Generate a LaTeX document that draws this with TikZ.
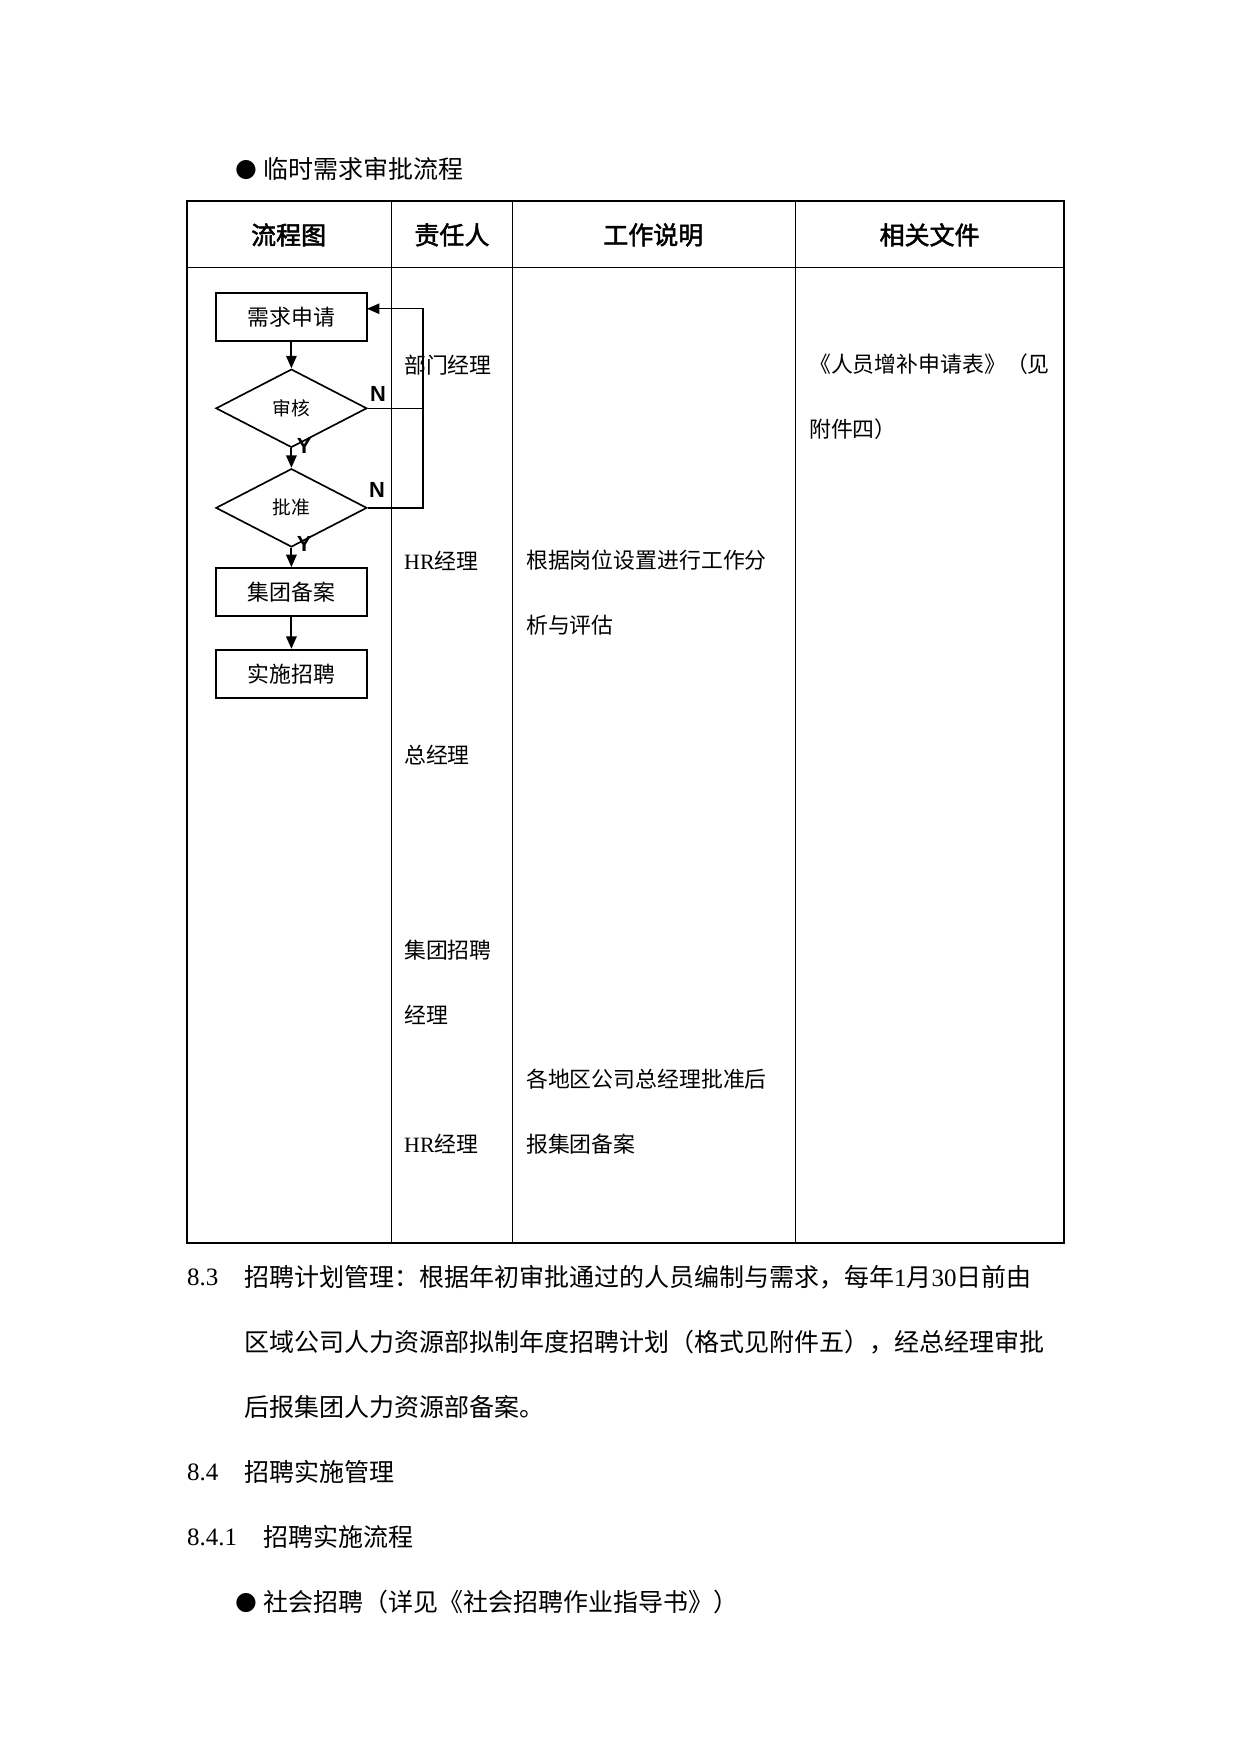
\documentclass[tikz,border=0pt]{standalone}
\usepackage{fontspec}
\setmainfont{Liberation Serif}
\newfontfamily\cjk{Noto Sans CJK SC}
\newfontfamily\cjkb[FakeBold=2]{Noto Sans CJK SC}
\newfontfamily\arialf{Liberation Sans}
\newfontfamily\dvs{DejaVu Sans}
\usetikzlibrary{shapes.geometric,arrows.meta}
\begin{document}
\begin{tikzpicture}[x=0.537pt,y=-0.537pt,
  txt/.style={anchor=west,inner sep=0pt,font=\fontsize{12}{14}\selectfont\cjk},
  celltxt/.style={anchor=west,inner sep=0pt,font=\fontsize{10.5}{12}\selectfont\cjk},
  headtxt/.style={inner sep=0pt,font=\fontsize{12}{14}\selectfont\cjkb},
  fbox/.style={draw,line width=1pt,minimum width=72.5pt,minimum height=23.1pt,inner sep=0pt,font=\fontsize{10.5}{12}\selectfont\cjk},
  fdia/.style={draw,diamond,line width=0.8pt,minimum width=72.5pt,minimum height=37.6pt,inner sep=0pt,font=\fontsize{9}{11}\selectfont\cjk},
  flow/.style={line width=1pt,-{Triangle[length=6pt,width=5pt]}},
  back/.style={line width=0.7pt},
  yn/.style={inner sep=0pt,font=\fontsize{10.5}{12}\selectfont\arialf\bfseries}]
\useasboundingbox (0,0) rectangle (1109,1568);

% title
\node[inner sep=0pt,font=\fontsize{12}{14}\selectfont\dvs] (b1) at (220,152) {●};
\node[txt] (title) at (235,151) {临时需求审批流程};

% table
\draw[line width=1pt] (167,180) rectangle (951,1111);
\draw[line width=0.7pt] (167,239) -- (951,239);
\draw[line width=0.5pt] (350,180) -- (350,1111);
\draw[line width=0.7pt] (458,180) -- (458,1111);
\draw[line width=0.7pt] (711,180) -- (711,1111);

\node[headtxt] (h1) at (258,210) {流程图};
\node[headtxt] (h2) at (404,210) {责任人};
\node[headtxt] (h3) at (584,210) {工作说明};
\node[headtxt] (h4) at (831,210) {相关文件};

% flowchart
\node[fbox] (req) at (260.5,283.5) {需求申请};
\node[fdia] (rev) at (260.5,365) {审核};
\node[fdia] (app) at (260.5,454) {批准};
\node[fbox] (rec) at (260.5,529.5) {集团备案};
\node[fbox] (imp) at (260.5,602.5) {实施招聘};

\draw[flow] (req) -- (rev);
\draw[flow] (rev) -- (app);
\draw[flow] (app) -- (rec);
\draw[flow] (rec) -- (imp);

\coordinate (j1) at (378,365);
\coordinate (j2) at (378,454);
\coordinate (jt) at (378,276);
\coordinate (rin) at (328,276);
\draw[back] (rev.east) -- (j1);
\draw[back,-{Triangle[length=6pt,width=5pt]}] (app.east) -- (j2) -- (jt) -- (rin);

\node[yn] (n1) at (338,352) {N};
\node[yn] (n2) at (337,438) {N};
\node[yn,anchor=west] (y1) at (265,399) {Y};
\node[yn,anchor=west] (y2) at (265,486) {Y};

% responsible
\node[celltxt] (r1) at (361,326) {部门经理};
\node[celltxt] (r2) at (361,501) {\fontspec{Liberation Serif}HR\cjk 经理};
\node[celltxt] (r3) at (361,675) {总经理};
\node[celltxt] (r4) at (361,849) {集团招聘};
\node[celltxt] (r5) at (361,907) {经理};
\node[celltxt] (r6) at (361,1023) {\fontspec{Liberation Serif}HR\cjk 经理};

% work description
\node[celltxt] (w1) at (470,501) {根据岗位设置进行工作分};
\node[celltxt] (w2) at (470,559) {析与评估};
\node[celltxt] (w3) at (470,965) {各地区公司总经理批准后};
\node[celltxt] (w4) at (470,1023) {报集团备案};

% files
\node[celltxt] (f1) at (723,326) {《人员增补申请表》（见};
\node[celltxt] (f2) at (723,384) {附件四）};

% body text
\node[txt,font=\fontsize{12}{14}\selectfont] (p1n) at (167,1142) {8.3};
\node[txt] (p1) at (218,1142) {招聘计划管理：根据年初审批通过的人员编制与需求，每年{\fontspec{Liberation Serif}1}月{\fontspec{Liberation Serif}30}日前由};
\node[txt] (p2) at (218,1200) {区域公司人力资源部拟制年度招聘计划（格式见附件五），经总经理审批};
\node[txt] (p3) at (218,1258) {后报集团人力资源部备案。};
\node[txt,font=\fontsize{12}{14}\selectfont] (p4n) at (167,1316) {8.4};
\node[txt] (p4) at (218,1316) {招聘实施管理};
\node[txt,font=\fontsize{12}{14}\selectfont] (p5n) at (167,1374) {8.4.1};
\node[txt] (p5) at (235,1374) {招聘实施流程};
\node[inner sep=0pt,font=\fontsize{12}{14}\selectfont\dvs] (b2) at (220,1433) {●};
\node[txt] (p6) at (235,1432) {社会招聘（详见《社会招聘作业指导书》）};
\end{tikzpicture}
\end{document}
